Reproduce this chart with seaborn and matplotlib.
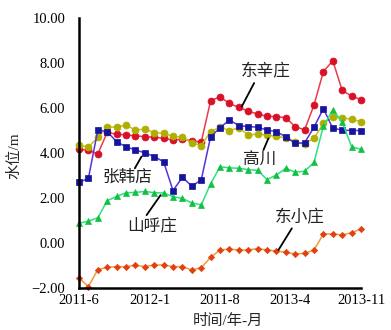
import numpy as np
import pandas as pd
import matplotlib
matplotlib.use("Agg")
import matplotlib.pyplot as plt
import seaborn as sns

sns.set_style("white")
plt.rcParams["font.family"] = ["Liberation Serif", "Noto Sans CJK SC", "DejaVu Sans"]
plt.rcParams["axes.unicode_minus"] = True

# Monthly groundwater levels (m), 31 observations per well
months = np.arange(31)
dongxinzhuang = [4.16, 4.13, 3.95, 4.92, 4.83, 4.81, 4.76, 4.73, 4.70, 4.65,
                 4.58, 4.61, 4.55, 4.48, 6.32, 6.50, 6.20, 6.03, 5.86, 5.73,
                 5.63, 5.62, 5.57, 5.17, 5.03, 6.13, 7.62, 8.10, 6.78, 6.53, 6.37]
zhanghandian = [2.70, 2.87, 5.02, 4.95, 4.50, 4.28, 4.13, 4.01, 3.84, 3.61,
                2.33, 2.92, 2.53, 2.80, 4.72, 5.12, 5.47, 5.22, 5.17, 5.15,
                5.02, 4.95, 4.72, 4.43, 4.45, 5.15, 5.97, 5.10, 5.02, 5.00, 5.00]
gaochuan = [4.34, 4.27, 4.69, 5.17, 5.14, 5.24, 5.02, 5.06, 4.91, 4.87,
            4.74, 4.70, 4.45, 4.33, 4.95, 5.15, 5.00, 5.12, 4.80, 4.84,
            4.80, 4.74, 4.68, 4.50, 4.42, 4.65, 5.32, 5.58, 5.56, 5.50, 5.39]
shanhuzhuang = [0.88, 0.97, 1.12, 1.88, 2.07, 2.23, 2.25, 2.29, 2.24, 2.22,
                2.06, 1.98, 1.78, 1.69, 2.63, 3.39, 3.34, 3.32, 3.26, 3.23,
                2.82, 3.02, 3.32, 3.15, 3.19, 3.58, 5.20, 5.91, 5.39, 4.28, 4.16]
dongxiaozhuang = [-1.55, -1.94, -1.18, -1.08, -1.05, -1.05, -0.99, -1.05, -0.98, -0.98,
                  -1.05, -1.05, -1.20, -1.10, -0.64, -0.31, -0.27, -0.31, -0.31, -0.25,
                  -0.31, -0.36, -0.41, -0.49, -0.46, -0.31, 0.40, 0.40, 0.36, 0.46, 0.62]

xtick_labels = ["2011-6", "2012-1", "2011-8", "2013-4", "2013-11"]
yticks = [-2, 0, 2, 4, 6, 8, 10]

fig = plt.figure(figsize=(3.91, 3.30), dpi=100)
ax = fig.add_axes([79 / 391, 42 / 330, 282 / 391, 270 / 330])

series = [
    (dongxinzhuang, "#ec3a4a", "o", "#d81028", 5.0),
    (gaochuan, "#c4c41a", "o", "#b0ae00", 5.0),
    (zhanghandian, "#5a32d8", "s", "#14149c", 5.0),
    (shanhuzhuang, "#2ee07e", "^", "#12c044", 4.6),
    (dongxiaozhuang, "#f29a3c", "D", "#e2400e", 3.2),
]
for vals, lc, mk, mc, ms in series:
    df = pd.DataFrame({"month": months, "level": vals})
    sns.lineplot(data=df, x="month", y="level", ax=ax, color=lc, linewidth=1.1,
                 marker=mk, markersize=ms, markerfacecolor=mc, markeredgecolor=mc,
                 markeredgewidth=0.5, clip_on=False)

ax.set_xlim(0, 30)
ax.set_ylim(-2, 10)
ax.set_xticks(np.linspace(0, 30, len(xtick_labels)))
ax.set_xticklabels(xtick_labels)
ax.set_yticks(yticks)
ax.set_yticklabels([f"{v:.2f}".replace("-", "\u2212") for v in yticks])
ax.tick_params(axis="both", direction="in", length=4, width=1.8, labelsize=10.5,
               colors="black")
ax.tick_params(axis="y", pad=10)
ax.tick_params(axis="x", pad=4)
for side in ("top", "right"):
    ax.spines[side].set_visible(False)
for side in ("left", "bottom"):
    ax.spines[side].set_linewidth(1.8)
    ax.spines[side].set_color("black")
ax.set_xlabel("")
ax.set_ylabel("")

# Well names with leader lines
cjk = ["Noto Sans CJK SC", "DejaVu Sans"]
labels = [
    ("东辛庄", (19.83, 7.61), (18.63, 7.11), (17.31, 6.06)),
    ("高川", (19.19, 3.66), (20.15, 4.65), (19.62, 4.13)),
    ("张韩店", (5.12, 2.92), (6.65, 3.84), (5.94, 3.32)),
    ("山呼庄", (7.78, 0.73), (8.68, 2.13), (7.19, 1.24)),
    ("东小庄", (23.45, 1.14), (22.64, 0.65), (21.22, -0.31)),
]
for name, pos, p0, p1 in labels:
    ax.text(pos[0], pos[1], name, family=cjk, fontsize=12, ha="center",
            va="center", color="#222222")
    ax.plot([p0[0], p1[0]], [p0[1], p1[1]], color="black", linewidth=1.3)

fig.text(14 / 391, 1 - 156 / 330, "水位/m", rotation=90, ha="center", va="center",
         fontsize=11, family=["Liberation Serif", "Noto Sans CJK SC"])
fig.text(228 / 391, 1 - 321 / 330, "时间/年-月", ha="center", va="center",
         fontsize=11, family=["Liberation Serif", "Noto Sans CJK SC"])

fig.savefig("out.png", dpi=100)
